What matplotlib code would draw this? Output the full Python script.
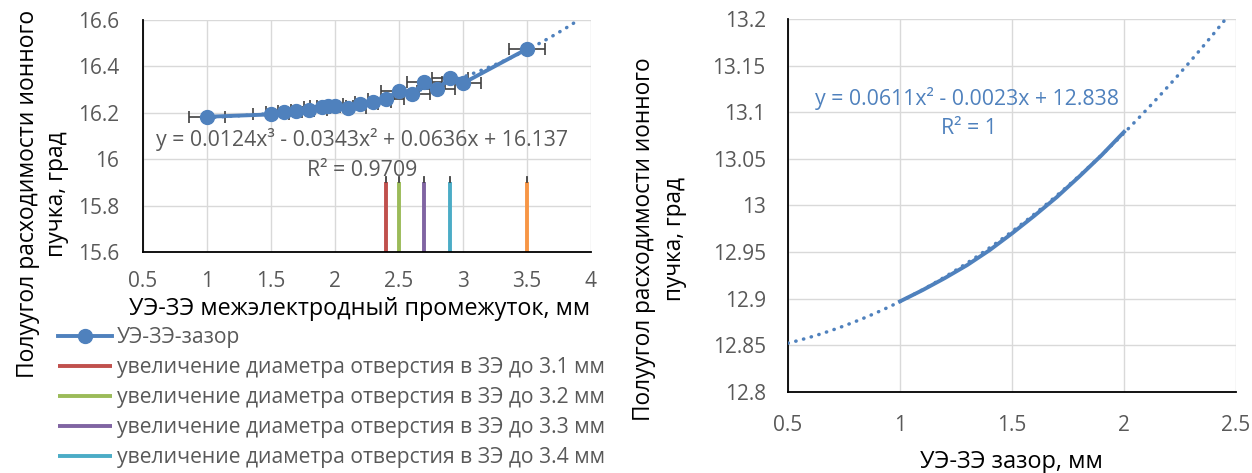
import numpy as np
import matplotlib
matplotlib.use("Agg")
from matplotlib import pyplot as plt

plt.rcParams['font.family'] = ['Open Sans', 'DejaVu Sans']

# left chart: angle vs inter-electrode gap
gap_x = [1.0, 1.5, 1.6, 1.7, 1.8, 1.9, 1.95, 2.0, 2.1, 2.2, 2.3, 2.4, 2.5, 2.6, 2.7, 2.8, 2.9, 3.0, 3.5]
gap_angle = [16.183, 16.193, 16.202, 16.208, 16.212, 16.224, 16.229, 16.229, 16.222, 16.238,
             16.248, 16.261, 16.295, 16.280, 16.334, 16.301, 16.349, 16.327, 16.475]
gap_xerr = 0.14
poly_left = [0.0124, -0.0343, 0.0636, 16.137]
trend_left_range = [1.0, 3.9]

# hole diameter markers
hole_x = [2.4, 2.5, 2.7, 2.9, 3.5]
hole_colors = ['#C0504D', '#9BBB59', '#8064A2', '#4BACC6', '#F79646']
hole_labels = ['увеличение диаметра отверстия в ЗЭ до 3.1 мм',
               'увеличение диаметра отверстия в ЗЭ до 3.2 мм',
               'увеличение диаметра отверстия в ЗЭ до 3.3 мм',
               'увеличение диаметра отверстия в ЗЭ до 3.4 мм',
               None]
hole_y = [15.6, 15.9]
hole_cap = 15.925

# right chart
zaz_x = [1.0, 1.1, 1.2, 1.3, 1.4, 1.5, 1.6, 1.7, 1.8, 1.9, 2.0]
zaz_angle = [12.897, 12.909, 12.922, 12.936, 12.952, 12.970, 12.989, 13.009, 13.031, 13.054, 13.079]
poly_right = [0.0611, -0.0023, 12.838]
trend_right_range = [0.5, 2.45]

blue = '#4F81BD'
grey = '#595959'
dotted = (0, (0.1, 2.2))

fig = plt.figure(figsize=(12.52, 4.73), dpi=100)
ax1 = fig.add_axes([0.114, 0.4672, 0.358, 0.4905])
ax2 = fig.add_axes([0.6294, 0.1719, 0.3578, 0.7873])

for ax in (ax1, ax2):
    ax.grid(True, color='#d9d9d9', lw=1.0)
    ax.set_axisbelow(True)
    for s in ('top', 'right'):
        ax.spines[s].set_visible(False)
    for s in ('left', 'bottom'):
        ax.spines[s].set_color('black')
        ax.spines[s].set_linewidth(1.3)
    ax.tick_params(length=0, labelcolor=grey, labelsize=15)

# left
for x, c, lab in zip(hole_x, hole_colors, hole_labels):
    ax1.plot([x, x], hole_y, color=c, lw=2.8, solid_capstyle='butt', label=lab, zorder=2)
    ax1.plot([x, x], [hole_y[1], hole_cap], color='#404040', lw=1.3, zorder=2)

ax1.errorbar(gap_x, gap_angle, xerr=gap_xerr, fmt='none', ecolor='#404040',
             elinewidth=1.2, capsize=4, capthick=1.2, zorder=3)
ax1.plot(gap_x, gap_angle, '-o', color=blue, lw=2.8, ms=10, label='УЭ-ЗЭ-зазор', zorder=4)
tx = np.linspace(trend_left_range[0], trend_left_range[1], 200)
ax1.plot(tx, np.polyval(poly_left, tx), color=blue, lw=2.5, ls=dotted,
         dash_capstyle='round', zorder=5)

ax1.set_xlim(0.5, 4)
ax1.set_ylim(15.6, 16.6)
ax1.set_xticks(np.arange(0.5, 4.01, 0.5))
ax1.set_xticklabels(['0.5', '1', '1.5', '2', '2.5', '3', '3.5', '4'])
ax1.set_yticks(np.arange(15.6, 16.61, 0.2))
ax1.set_yticklabels(['15.6', '15.8', '16', '16.2', '16.4', '16.6'])
ax1.tick_params(axis='y', pad=17)
ax1.tick_params(axis='x', pad=14)

ax1.text(2.21, 16.083, 'y = 0.0124x³ - 0.0343x² + 0.0636x + 16.137', ha='center', va='center',
         color=grey, fontsize=15.3)
ax1.text(2.21, 15.953, 'R² = 0.9709', ha='center', va='center', color=grey, fontsize=15.3)

# right
ax2.plot(zaz_x, zaz_angle, '-', color=blue, lw=2.8, zorder=4)
tx2 = np.linspace(trend_right_range[0], trend_right_range[1], 200)
ax2.plot(tx2, np.polyval(poly_right, tx2), color=blue, lw=2.5, ls=dotted,
         dash_capstyle='round', zorder=5)
ax2.set_xlim(0.5, 2.5)
ax2.set_ylim(12.8, 13.2)
ax2.set_xticks(np.arange(0.5, 2.51, 0.5))
ax2.set_xticklabels(['0.5', '1', '1.5', '2', '2.5'])
ax2.set_yticks(np.arange(12.8, 13.201, 0.05))
ax2.set_yticklabels(['12.8', '12.85', '12.9', '12.95', '13', '13.05', '13.1', '13.15', '13.2'])
ax2.tick_params(axis='y', pad=16)
ax2.tick_params(axis='x', pad=17)
ax2.text(1.30, 13.115, 'y = 0.0611x² - 0.0023x + 12.838', ha='center', va='center',
         color=blue, fontsize=15.3)
ax2.text(1.31, 13.083, 'R² = 1', ha='center', va='center', color=blue, fontsize=15.3)

# axis titles
ylab = 'Полуугол расходимости ионного\nпучка, град'
fig.text(0.034, 0.59, ylab, rotation=90, ha='center', va='center', fontsize=16.5,
         multialignment='center', linespacing=1.3)
fig.text(0.527, 0.495, ylab, rotation=90, ha='center', va='center', fontsize=16.3,
         multialignment='center', linespacing=1.4)
fig.text(0.2875, 1 - 309 / 473, 'УЭ-ЗЭ межэлектродный промежуток, мм', ha='center', va='center',
         fontsize=16.8)
fig.text(0.808, 0.023, 'УЭ-ЗЭ зазор, мм', ha='center', va='center', fontsize=16.9)

# legend
handles, labels = ax1.get_legend_handles_labels()
order = [labels.index('УЭ-ЗЭ-зазор')] + [labels.index(l) for l in hole_labels if l]
leg = fig.legend([handles[i] for i in order], [labels[i] for i in order],
                 loc='upper left', bbox_to_anchor=(58 / 1252, 1 - 327 / 473),
                 frameon=False, fontsize=15.2, handlelength=2.55, handletextpad=0.25,
                 labelspacing=0.43, borderpad=0, borderaxespad=0)
for t in leg.get_texts():
    t.set_color(grey)

fig.savefig('out.png', dpi=100)
